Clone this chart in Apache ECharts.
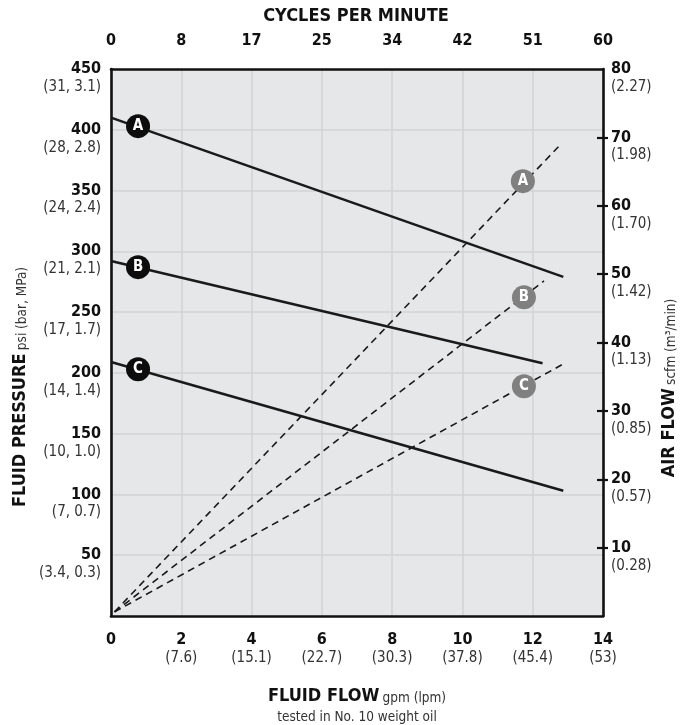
<!DOCTYPE html>
<html>
<head>
<meta charset="utf-8">
<script src="https://cdn.jsdelivr.net/npm/echarts@6/dist/echarts.min.js"></script>
<style>
html,body{margin:0;padding:0;background:#fff;}
#chart{width:685px;height:725px;}
</style>
</head>
<body>
<div id="chart"></div>
<script>
// ---- data ----
const flowTicks = [0, 2, 4, 6, 8, 10, 12, 14];
const flowLpm = ['', '(7.6)', '(15.1)', '(22.7)', '(30.3)', '(37.8)', '(45.4)', '(53)'];
const cyclesLabels = ['0', '8', '17', '25', '34', '42', '51', '60'];
const psiTicks = [50, 100, 150, 200, 250, 300, 350, 400, 450];
const psiMetric = ['(3.4, 0.3)', '(7, 0.7)', '(10, 1.0)', '(14, 1.4)', '(17, 1.7)', '(21, 2.1)', '(24, 2.4)', '(28, 2.8)', '(31, 3.1)'];
const airTicks = [10, 20, 30, 40, 50, 60, 70, 80];
const airMetric = ['(0.28)', '(0.57)', '(0.85)', '(1.13)', '(1.42)', '(1.70)', '(1.98)', '(2.27)'];

// fluid pressure lines (gpm, psi)
const pressureA = [[0, 410], [12.87, 279]];
const pressureB = [[0, 292], [12.28, 208]];
const pressureC = [[0, 209], [12.87, 103]];
// air consumption lines (gpm, scfm)
const airA = [[0.1, 0.6], [12.8, 69]];
const airB = [[0.1, 0.6], [12.32, 49]];
const airC = [[0.1, 0.6], [12.92, 37]];

// circle labels
const letters = ['A', 'B', 'C'];
const blackMarkFlow = [0.77, 0.77, 0.77];
const blackMarkPsi = [403, 287, 203];
const grayMarkFlow = [11.72, 11.75, 11.75];
const grayMarkAir = [63.6, 46.6, 33.6];

// ---- chart ----
const FONT = "'Liberation Sans Narrow','DejaVu Sans Condensed','Roboto Condensed',sans-serif";
const chart = echarts.init(document.getElementById('chart'), null, {renderer: 'canvas'});

const boldStyle = {fontFamily: FONT, fontWeight: 'bold', fontSize: 16, color: '#111', lineHeight: 18};
const subStyle = {fontFamily: FONT, fontWeight: 'normal', fontSize: 15, color: '#333', lineHeight: 18};
const BORDER = {show: true, onZero: false, lineStyle: {color: '#111', width: 2.6}};
const GRIDLINE = {show: true, showMinLine: false, showMaxLine: false, lineStyle: {color: '#d2d3d5', width: 1.5}};

function lineSeries(name, data, yIdx, dashed) {
  return {
    name, type: 'line', data, xAxisIndex: 0, yAxisIndex: yIdx,
    symbol: 'none', silent: true, z: 3,
    lineStyle: dashed ? {color: '#1a1a1a', width: 1.6, type: [7, 5]} : {color: '#1a1a1a', width: 2.6}
  };
}
function markSeries(name, xs, ys, yIdx, color) {
  return {
    name, type: 'scatter', xAxisIndex: 0, yAxisIndex: yIdx, z: 5,
    symbol: 'circle', symbolSize: 24,
    itemStyle: {color: color, opacity: 1},
    data: xs.map((x, i) => ({value: [x, ys[i]], label: {formatter: letters[i]}})),
    label: {show: true, position: 'inside', color: '#fff', fontFamily: FONT, fontWeight: 'bold', fontSize: 15}
  };
}
function titleText(x, y, rot, bold, small) {
  return {type: 'text', x, y, rotation: rot, z: 10, style: {
    text: '{a|' + bold + '} {b|' + small + '}', align: 'center', verticalAlign: 'middle',
    rich: {a: {fontFamily: FONT, fontWeight: 'bold', fontSize: 18, fill: '#111', verticalAlign: 'bottom', lineHeight: 20},
           b: {fontFamily: FONT, fontSize: 13.5, fill: '#333', verticalAlign: 'bottom', lineHeight: 18}}}};
}

const option = {
  animation: false,
  backgroundColor: '#fff',
  textStyle: {fontFamily: FONT},
  grid: {left: 111, right: 82, top: 69, bottom: 109, show: true, backgroundColor: '#e6e7e8', borderWidth: 0, containLabel: false},
  xAxis: [
    {
      type: 'value', position: 'bottom', min: 0, max: 14, interval: 2,
      axisLine: BORDER, axisTick: {show: false},
      splitLine: GRIDLINE,
      axisLabel: {
        margin: 14,
        formatter: v => { const i = flowTicks.indexOf(v); return i > 0 ? '{a|' + v + '}\n{b|' + flowLpm[i] + '}' : '{a|' + v + '}'; },
        rich: {a: Object.assign({}, boldStyle, {lineHeight: 19}), b: Object.assign({}, subStyle, {lineHeight: 19})}
      }
    },
    {
      type: 'value', position: 'top', min: 0, max: 14, interval: 2,
      axisLine: BORDER, axisTick: {show: false}, splitLine: {show: false},
      axisLabel: {margin: 20, formatter: v => cyclesLabels[flowTicks.indexOf(v)], fontFamily: FONT, fontWeight: 'bold', fontSize: 16, color: '#111'}
    }
  ],
  yAxis: [
    {
      type: 'value', position: 'left', min: 0, max: 450, interval: 50,
      axisLine: BORDER, axisTick: {show: false},
      splitLine: GRIDLINE,
      axisLabel: {
        margin: 10,
        formatter: v => { const i = psiTicks.indexOf(v); return i < 0 ? '' : '{s| }\n{a|' + v + '}\n{b|' + psiMetric[i] + '}'; },
        rich: {s: subStyle, a: boldStyle, b: subStyle}
      }
    },
    {
      type: 'value', position: 'right', min: 0, max: 80, interval: 10,
      axisLine: BORDER,
      axisTick: {show: true, inside: false, length: 5, lineStyle: {color: '#111', width: 2.2}, customValues: airTicks.slice(0, 7)},
      splitLine: {show: false},
      axisLabel: {
        margin: 8,
        formatter: v => { const i = airTicks.indexOf(v); return i < 0 ? '' : '{s| }\n{a|' + v + '}\n{b|' + airMetric[i] + '}'; },
        rich: {s: subStyle, a: boldStyle, b: subStyle}
      }
    },
    {
      type: 'value', position: 'right', min: 0, max: 80, interval: 10,
      axisLine: {show: false, onZero: false},
      axisTick: {show: true, inside: true, length: 6, lineStyle: {color: '#111', width: 2.2}, customValues: airTicks.slice(0, 7)},
      splitLine: {show: false}, axisLabel: {show: false}
    }
  ],
  graphic: [
    {type: 'text', x: 356, y: 16, style: {text: 'CYCLES PER MINUTE', align: 'center', verticalAlign: 'middle', fontFamily: FONT, fontWeight: 'bold', fontSize: 18, fill: '#111'}},
    titleText(357, 695, 0, 'FLUID FLOW', 'gpm (lpm)'),
    {type: 'text', x: 357, y: 717, style: {text: 'tested in No. 10 weight oil', align: 'center', verticalAlign: 'middle', fontFamily: FONT, fontSize: 13.5, fill: '#333'}},
    titleText(19, 387, Math.PI / 2, 'FLUID PRESSURE', 'psi (bar, MPa)'),
    titleText(668, 388, Math.PI / 2, 'AIR FLOW', 'scfm (m³/min)')
  ],
  series: [
    lineSeries('Pressure A', pressureA, 0, false),
    lineSeries('Pressure B', pressureB, 0, false),
    lineSeries('Pressure C', pressureC, 0, false),
    lineSeries('Air A', airA, 1, true),
    lineSeries('Air B', airB, 1, true),
    lineSeries('Air C', airC, 1, true),
    markSeries('Pressure labels', blackMarkFlow, blackMarkPsi, 0, '#0d0d0d'),
    markSeries('Air labels', grayMarkFlow, grayMarkAir, 1, '#808080')
  ]
};
chart.setOption(option);
</script>
</body>
</html>
